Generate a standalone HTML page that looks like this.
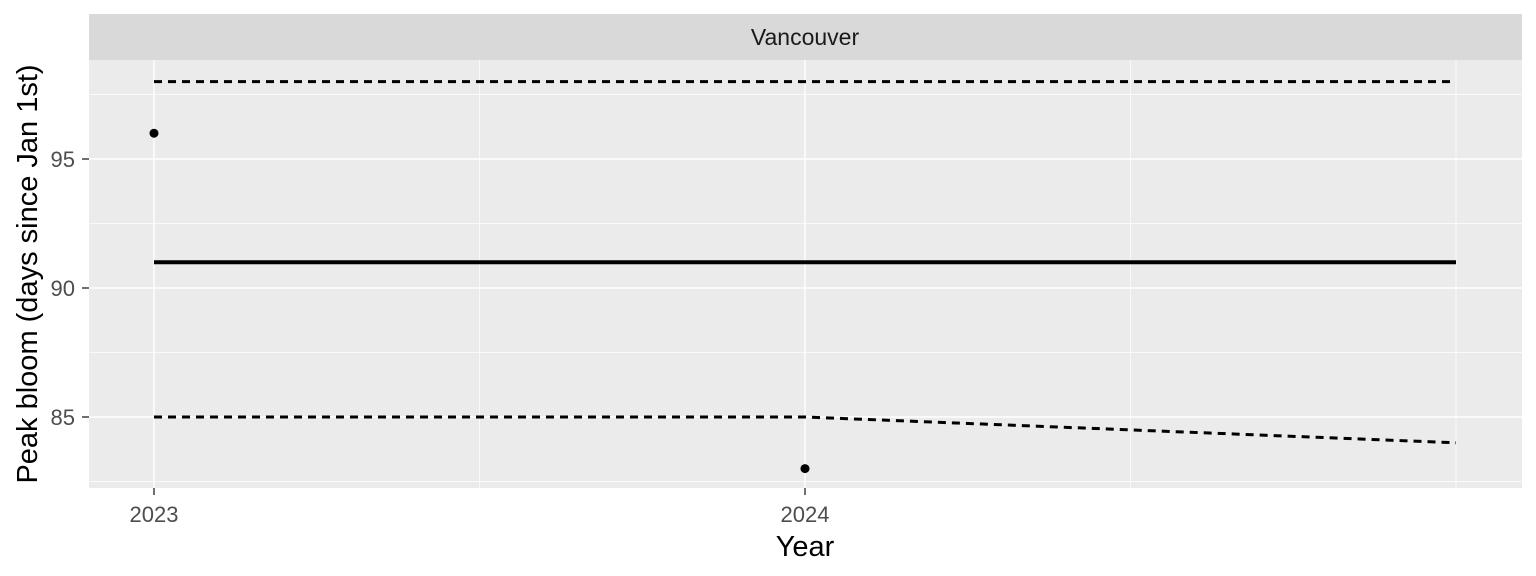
<!DOCTYPE html>
<html><head><meta charset="utf-8"><style>
body{margin:0;background:#fff;}
svg{display:block;font-family:"Liberation Sans",Arial,sans-serif;}
</style></head><body>
<svg width="1536" height="576" viewBox="0 0 1536 576">
<rect x="89" y="14" width="1433" height="46" fill="#d9d9d9"/>
<text x="805" y="45" text-anchor="middle" font-size="23" fill="#1a1a1a">Vancouver</text>
<rect x="89" y="60" width="1433" height="428" fill="#ebebeb"/>
<g id="grid"></g>
<g id="marks"></g>
<g id="axes"></g>
<text x="805" y="556" text-anchor="middle" font-size="29" fill="#000">Year</text>
<text transform="translate(37,274) rotate(-90)" text-anchor="middle" font-size="29" fill="#000">Peak bloom (days since Jan 1st)</text>
</svg>
<script>
const years=[2023,2024,2025];
const fitValues=[91,91,91];
const upperValues=[98,98,98];
const lowerValues=[85,85,84];
const obsYears=[2023,2024];
const obsValues=[96,83];
const yTicks=[85,90,95];
const xTicks=[2023,2024];
const ns="http://www.w3.org/2000/svg";
function xs(v){return 154+(v-2023)*651;}
function ys(v){return 288-(v-90)*25.8;}
function mk(tag,attrs,parent){const e=document.createElementNS(ns,tag);for(const k in attrs)e.setAttribute(k,attrs[k]);document.getElementById(parent).appendChild(e);return e;}
for(let v=82.5;v<=98;v+=2.5){const y=ys(v);if(y<60||y>488)continue;
 const major=yTicks.includes(v);
 const l=mk('line',{x1:89,x2:1522,y1:y,y2:y,stroke:'#fff','stroke-width':major?1.4:0.7},'grid');
 
 }
for(let v=2023;v<=2025;v+=0.5){const x=xs(v);
 const major=xTicks.includes(v);
 const l=mk('line',{x1:x,x2:x,y1:60,y2:488,stroke:'#fff','stroke-width':major?1.4:0.7},'grid');
 
 }
function pts(vals){return years.map((y,i)=>xs(y)+','+ys(vals[i])).join(' ');}
let p=mk('polyline',{points:pts(upperValues),fill:'none',stroke:'#000','stroke-width':3,'stroke-dasharray':'8,6'},'marks');


p=mk('polyline',{points:pts(lowerValues),fill:'none',stroke:'#000','stroke-width':3,'stroke-dasharray':'8,6'},'marks');


p=mk('polyline',{points:pts(fitValues),fill:'none',stroke:'#000','stroke-width':4},'marks');


obsYears.forEach((yr,i)=>{const c=mk('circle',{cx:xs(yr),cy:ys(obsValues[i]),r:4.5,fill:'#000'},'marks');
 
 });
yTicks.forEach(v=>{const y=ys(v);
 const t=mk('line',{x1:82,x2:89,y1:y,y2:y,stroke:'#333','stroke-width':1.4},'axes');
 
 
 const tx=mk('text',{x:75,y:y+8,'text-anchor':'end','font-size':22,fill:'#4d4d4d'},'axes');tx.textContent=v;
 
 });
xTicks.forEach(v=>{const x=xs(v);
 const t=mk('line',{x1:x,x2:x,y1:488,y2:495,stroke:'#333','stroke-width':1.4},'axes');
 
 
 const tx=mk('text',{x:x,y:522,'text-anchor':'middle','font-size':22,fill:'#4d4d4d'},'axes');tx.textContent=v;
 
 });
</script>
</body></html>
